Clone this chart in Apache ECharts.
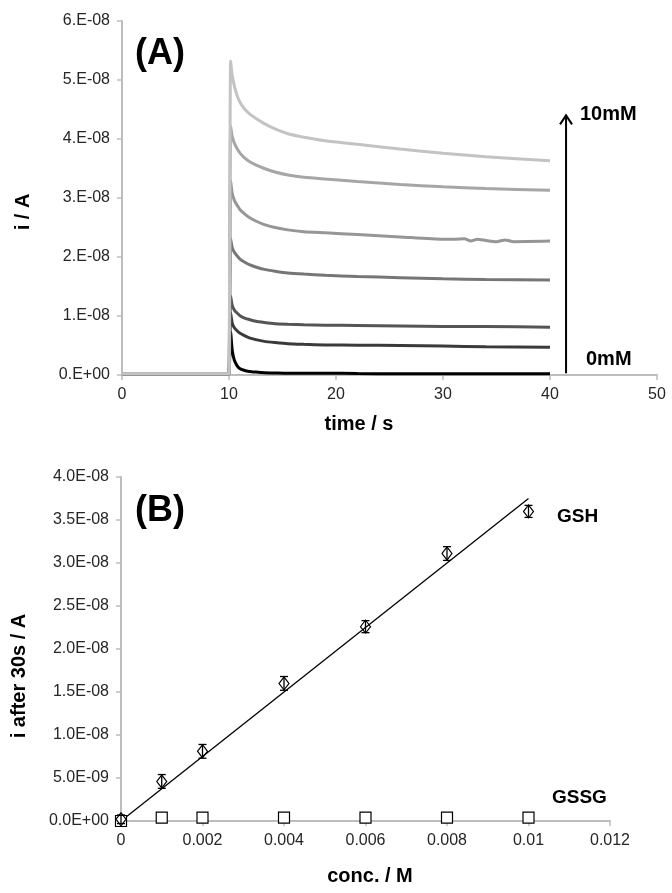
<!DOCTYPE html>
<html>
<head>
<meta charset="utf-8">
<script src="https://cdn.jsdelivr.net/npm/echarts@6/dist/echarts.min.js"></script>
<style>
  html, body { margin: 0; padding: 0; background: #fff; }
  #chart { width: 672px; height: 893px; }
</style>
</head>
<body>
<div id="chart"></div>
<script>
// (A) chronoamperometry, current in units of 1e-8 A
var times = [0, 9.9, 10, 10.15, 10.3, 10.5, 10.75, 11, 11.4, 11.9, 12.5, 13.3, 14.3, 15.5, 17, 19, 22, 26, 30, 34, 40]
var curve0mM = [0.02, 0.02, 0.02, 0.73, 0.42, 0.25, 0.16, 0.11, 0.08, 0.06, 0.05, 0.04, 0.035, 0.03, 0.03, 0.03, 0.025, 0.02, 0.02, 0.02, 0.02]
var curve1mM = [0.02, 0.02, 0.02, 1.05, 0.88, 0.80, 0.75, 0.71, 0.67, 0.63, 0.60, 0.57, 0.55, 0.53, 0.52, 0.51, 0.505, 0.50, 0.49, 0.48, 0.47]
var curve2mM = [0.02, 0.02, 0.02, 1.34, 1.18, 1.10, 1.05, 1.01, 0.97, 0.94, 0.91, 0.89, 0.87, 0.86, 0.85, 0.845, 0.84, 0.83, 0.82, 0.82, 0.81]
var curve4mM = [0.02, 0.02, 0.02, 2.31, 2.16, 2.08, 2.02, 1.97, 1.92, 1.87, 1.83, 1.79, 1.76, 1.73, 1.71, 1.69, 1.67, 1.65, 1.63, 1.62, 1.61]
var curve6mM = [0.02, 0.02, 0.02, 3.29, 3.08, 2.96, 2.88, 2.81, 2.74, 2.67, 2.61, 2.55, 2.50, 2.46, 2.43, 2.41, 2.38, 2.34, 2.30, 2.28, 2.27]
var curve8mM = [0.02, 0.02, 0.02, 4.22, 4.04, 3.93, 3.84, 3.77, 3.69, 3.62, 3.56, 3.50, 3.44, 3.39, 3.35, 3.32, 3.28, 3.23, 3.19, 3.16, 3.13]
var curve10mM = [0.02, 0.02, 0.02, 5.32, 5.08, 4.90, 4.74, 4.63, 4.52, 4.43, 4.35, 4.26, 4.17, 4.09, 4.03, 3.97, 3.91, 3.83, 3.76, 3.70, 3.63]
// small wobble on the 6mM trace
var noiseTimes6mM = [31, 32, 32.6, 33.2, 35, 35.8, 36.6]
var noise6mM = [2.30, 2.31, 2.27, 2.30, 2.26, 2.29, 2.26]
var curveColors = ['#000000', '#3a3a3a', '#555555', '#767676', '#969696', '#a6a6a6', '#c3c3c3']
var yLabelsA = ['0.E+00', '1.E-08', '2.E-08', '3.E-08', '4.E-08', '5.E-08', '6.E-08']
var xLabelsA = ['0', '10', '20', '30', '40', '50']

// (B) current after 30 s vs concentration
var conc = [0, 0.001, 0.002, 0.004, 0.006, 0.008, 0.01]
var gshCurrent = [0.02e-8, 0.46e-8, 0.81e-8, 1.60e-8, 2.26e-8, 3.11e-8, 3.60e-8]
var gshError = [0.05e-8, 0.08e-8, 0.08e-8, 0.08e-8, 0.07e-8, 0.08e-8, 0.07e-8]
var gssgCurrent = [0.0, 0.04e-8, 0.04e-8, 0.04e-8, 0.04e-8, 0.04e-8, 0.04e-8]
var fitX = [0, 0.01]
var fitY = [0, 3.75e-8]
var yLabelsB = ['0.0E+00', '5.0E-09', '1.0E-08', '1.5E-08', '2.0E-08', '2.5E-08', '3.0E-08', '3.5E-08', '4.0E-08']
var xLabelsB = ['0', '0.002', '0.004', '0.006', '0.008', '0.01', '0.012']

var FONT = 'Liberation Sans, Arial, sans-serif'
var chart = echarts.init(document.getElementById('chart'))

function pairs (xs, ys, scale) {
  return xs.map(function (x, i) { return [x, ys[i] * scale] })
}

function withNoise (xs, ys, nx, ny) {
  var pts = pairs(xs, ys, 1e-8).concat(pairs(nx, ny, 1e-8))
  pts.sort(function (a, b) { return a[0] - b[0] })
  return pts
}

var curvesA = [curve0mM, curve1mM, curve2mM, curve4mM, curve6mM, curve8mM, curve10mM]
var namesA = ['0mM', '1mM', '2mM', '4mM', '6mM', '8mM', '10mM']
var series = curvesA.map(function (c, i) {
  return {
    name: namesA[i],
    type: 'line',
    xAxisIndex: 0,
    yAxisIndex: 0,
    showSymbol: false,
    smooth: 0.2,
    lineStyle: { color: curveColors[i], width: 3 },
    data: namesA[i] === '6mM' ? withNoise(times, c, noiseTimes6mM, noise6mM) : pairs(times, c, 1e-8),
    z: 2 + i
  }
})

// concentration arrow
series.push({
  type: 'custom',
  xAxisIndex: 0,
  yAxisIndex: 0,
  data: [[41.5, 0.03e-8, 4.4e-8]],
  z: 20,
  renderItem: function (params, api) {
    var p0 = api.coord([api.value(0), api.value(1)])
    var p1 = api.coord([api.value(0), api.value(2)])
    return {
      type: 'group',
      children: [
        { type: 'line', shape: { x1: p0[0], y1: p0[1], x2: p1[0], y2: p1[1] }, style: { stroke: '#000', lineWidth: 2 } },
        { type: 'polyline', shape: { points: [[p1[0] - 6, p1[1] + 9], [p1[0], p1[1]], [p1[0] + 6, p1[1] + 9]] }, style: { stroke: '#000', lineWidth: 2, fill: null } }
      ]
    }
  }
})

series.push({
  name: 'fit',
  type: 'line',
  xAxisIndex: 1,
  yAxisIndex: 1,
  showSymbol: false,
  lineStyle: { color: '#000', width: 1.3 },
  data: pairs(fitX, fitY, 1),
  z: 3
})
series.push({
  name: 'GSSG',
  type: 'scatter',
  xAxisIndex: 1,
  yAxisIndex: 1,
  symbol: 'rect',
  symbolSize: 11,
  itemStyle: { color: '#fff', borderColor: '#000', borderWidth: 1.2, opacity: 1 },
  data: pairs(conc, gssgCurrent, 1),
  z: 4
})
series.push({
  type: 'custom',
  xAxisIndex: 1,
  yAxisIndex: 1,
  data: conc.map(function (x, i) { return [x, gshCurrent[i] - gshError[i], gshCurrent[i] + gshError[i]] }),
  z: 5,
  renderItem: function (params, api) {
    var lo = api.coord([api.value(0), api.value(1)])
    var hi = api.coord([api.value(0), api.value(2)])
    var st = { stroke: '#000', lineWidth: 1.3 }
    return {
      type: 'group',
      children: [
        { type: 'line', shape: { x1: lo[0], y1: lo[1], x2: hi[0], y2: hi[1] }, style: st },
        { type: 'line', shape: { x1: lo[0] - 4, y1: lo[1], x2: lo[0] + 4, y2: lo[1] }, style: st },
        { type: 'line', shape: { x1: hi[0] - 4, y1: hi[1], x2: hi[0] + 4, y2: hi[1] }, style: st }
      ]
    }
  }
})
series.push({
  name: 'GSH',
  type: 'scatter',
  xAxisIndex: 1,
  yAxisIndex: 1,
  symbol: 'diamond',
  symbolSize: [10, 13],
  itemStyle: { color: 'rgba(255,255,255,0)', borderColor: '#000', borderWidth: 1.2, opacity: 1 },
  data: pairs(conc, gshCurrent, 1),
  z: 6
})

var axisLine = { lineStyle: { color: '#bdbdbd', width: 2 } }
var axisTick = { show: true, inside: false, length: 5, lineStyle: { color: '#bdbdbd', width: 1.5 } }
var labelStyle = { color: '#262626', fontSize: 16, fontFamily: FONT }

function boldText (text, x, y, size, align, rotate) {
  return {
    type: 'text',
    x: x,
    y: y,
    rotation: rotate || 0,
    style: {
      text: text,
      fill: '#000',
      font: 'bold ' + size + 'px ' + FONT,
      textAlign: align || 'left',
      textVerticalAlign: 'middle'
    }
  }
}

var option = {
  animation: false,
  backgroundColor: '#fff',
  grid: [
    { left: 122, right: 15, top: 21, height: 354, outerBoundsMode: 'none', containLabel: false },
    { left: 121, right: 62, top: 477, height: 344, outerBoundsMode: 'none', containLabel: false }
  ],
  xAxis: [{
    gridIndex: 0,
    type: 'value',
    min: 0,
    max: 50,
    interval: 10,
    axisLine: axisLine,
    axisTick: axisTick,
    splitLine: { show: false },
    axisLabel: Object.assign({ margin: 12, formatter: function (v) { return xLabelsA[Math.round(v / 10)] } }, labelStyle)
  }, {
    gridIndex: 1,
    type: 'value',
    min: 0,
    max: 0.012,
    interval: 0.002,
    axisLine: axisLine,
    axisTick: axisTick,
    splitLine: { show: false },
    axisLabel: Object.assign({ margin: 12, formatter: function (v) { return xLabelsB[Math.round(v / 0.002)] } }, labelStyle)
  }],
  yAxis: [{
    gridIndex: 0,
    type: 'value',
    min: 0,
    max: 6e-8,
    interval: 1e-8,
    axisLine: Object.assign({ show: true }, axisLine),
    axisTick: axisTick,
    splitLine: { show: false },
    axisLabel: Object.assign({ margin: 12, formatter: function (v) { return yLabelsA[Math.round(v / 1e-8)] } }, labelStyle)
  }, {
    gridIndex: 1,
    type: 'value',
    min: 0,
    max: 4e-8,
    interval: 0.5e-8,
    axisLine: Object.assign({ show: true }, axisLine),
    axisTick: axisTick,
    splitLine: { show: false },
    axisLabel: Object.assign({ margin: 12, formatter: function (v) { return yLabelsB[Math.round(v / 0.5e-8)] } }, labelStyle)
  }],
  graphic: [
    boldText('(A)', 135, 54, 36),
    boldText('(B)', 135, 511, 36),
    boldText('10mM', 580, 114, 20),
    boldText('0mM', 586, 359, 20),
    boldText('GSH', 557, 517, 19),
    boldText('GSSG', 552, 798, 19),
    boldText('time / s', 359, 424, 20, 'center'),
    boldText('conc. / M', 370, 876, 20, 'center'),
    boldText('i / A', 23, 212, 20, 'center', Math.PI / 2),
    boldText('i after 30s / A', 19, 676, 20, 'center', Math.PI / 2)
  ],
  series: series
}
chart.setOption(option, true)
</script>
</body>
</html>
